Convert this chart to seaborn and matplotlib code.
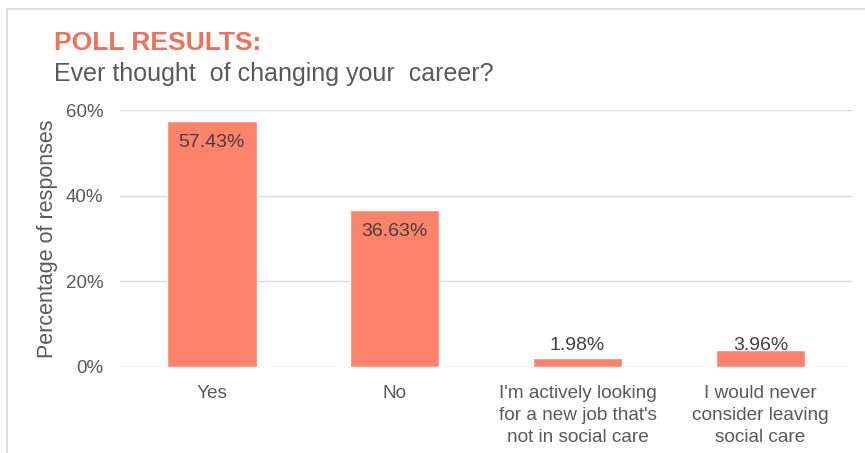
import matplotlib
matplotlib.use('Agg')
import matplotlib.pyplot as plt
import matplotlib.patches as mpatches
import seaborn as sns
import pandas as pd

# Poll data
answers = ['Yes', 'No',
           "I'm actively looking\nfor a new job that's\nnot in social care",
           'I would never\nconsider leaving\nsocial care']
percent = [57.43, 36.63, 1.98, 3.96]

bar_color = '#FF826A'
title_color = '#F0705A'
text_color = '#595959'

sns.set_theme(style='white')
plt.rcParams['font.family'] = ['Liberation Sans', 'DejaVu Sans']

df = pd.DataFrame({'answer': answers, 'percent': percent})

fig = plt.figure(figsize=(8.65, 4.53), dpi=100)
ax = fig.add_axes([0.139, 0.19, 0.846, 0.567])

sns.barplot(data=df, x='answer', y='percent', color=bar_color, width=0.49,
            saturation=1, ax=ax)

ax.set_ylim(0, 60)
ax.set_yticks([0, 20, 40, 60])
ax.set_yticklabels(['0%', '20%', '40%', '60%'], color=text_color, fontsize=13.5)
ax.tick_params(axis='x', colors=text_color, labelsize=13.7, length=0, pad=13)
ax.tick_params(axis='y', length=0, pad=12)
for lab in ax.get_xticklabels():
    lab.set_linespacing(1.38)
ax.grid(axis='y', color='#D9D9D9', linewidth=1)
ax.set_axisbelow(True)
for s in ax.spines.values():
    s.set_visible(False)
ax.set_xlabel('')
ax.set_ylabel('Percentage of responses', color=text_color, fontsize=15.5, labelpad=6)

# value labels at the inside end of each bar, kept above the floor for short bars
for p, v in zip(ax.patches, percent):
    x = p.get_x() + p.get_width() / 2
    y = max(v - 4.9, 4.9)
    ax.text(x, y, f'{v:.2f}%', ha='center', va='center',
            color='#404040', fontsize=14)

fig.text(0.063, 0.889, 'POLL RESULTS:', color=title_color, fontsize=19,
         fontweight='bold', va='baseline')
fig.text(0.063, 0.821, 'Ever thought  of changing your  career?', color=text_color,
         fontsize=18, va='baseline')

# thin frame around the chart area
fig.patches.append(mpatches.Rectangle((0.008, -0.01), 1.1, 0.99,
                                      transform=fig.transFigure, fill=False,
                                      edgecolor='#D9D9D9', linewidth=1.2))

fig.savefig('out.png', dpi=100)
